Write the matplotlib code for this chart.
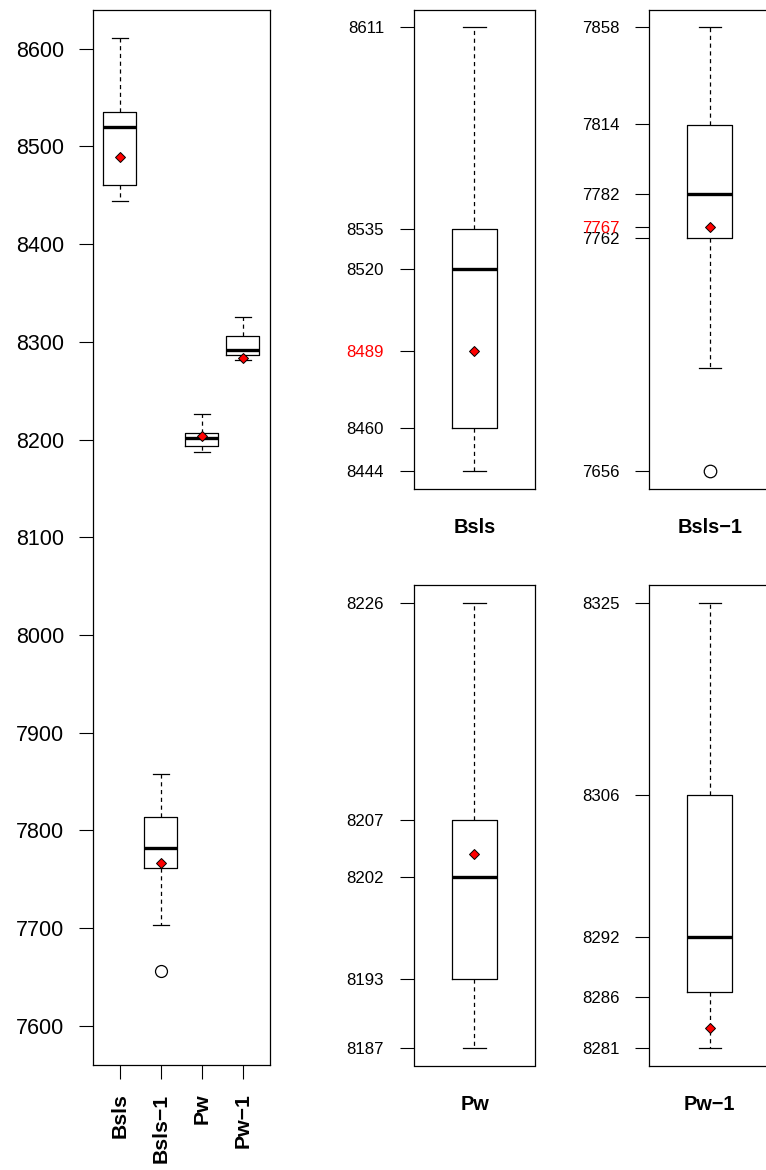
import numpy as np
import matplotlib
matplotlib.use("Agg")
import matplotlib.pyplot as plt

plt.rcParams["font.family"] = ["Liberation Sans", "DejaVu Sans"]
plt.rcParams["lines.scale_dashes"] = False

# Five-number summaries, means and outliers per group
groups = ["Bsls", "Bsls\u22121", "Pw", "Pw\u22121"]
whisk_hi = [8611, 7858, 8226, 8325]
q3 = [8535, 7813.5, 8207, 8306]
medians = [8520, 7782, 8202, 8292]
q1 = [8460, 7762, 8193, 8286.5]
whisk_lo = [8444, 7703, 8187, 8281]
means = [8489, 7767, 8204, 8283]
outliers = [[], [7656], [], []]
mean_on_axis = [True, True, False, False]

overview_ticks = [7600, 7700, 7800, 7900, 8000, 8100, 8200, 8300, 8400, 8500, 8600]
overview_lim = (7600, 8600)

W, H, DPI = 766, 1170, 100
fig = plt.figure(figsize=(W / DPI, H / DPI), dpi=DPI)


def add_axes_px(x0, y0, x1, y1):
    return fig.add_axes([x0 / W, 1 - y1 / H, (x1 - x0) / W, (y1 - y0) / H])


def stats_for(i):
    return dict(med=medians[i], q1=q1[i], q3=q3[i], whislo=whisk_lo[i],
                whishi=whisk_hi[i], fliers=outliers[i], mean=means[i], label=groups[i])


box_kw = dict(
    showmeans=True,
    patch_artist=False,
    boxprops=dict(color="black", linewidth=0.9),
    medianprops=dict(color="black", linewidth=2.4, solid_capstyle="butt"),
    whiskerprops=dict(color="black", linewidth=0.9, linestyle=(0, (3.0, 2.6))),
    capprops=dict(color="black", linewidth=0.9),
    meanprops=dict(marker="D", markerfacecolor="red", markeredgecolor="black",
                   markeredgewidth=0.7, markersize=5.6),
)


def style_frame(ax):
    for sp in ax.spines.values():
        sp.set_linewidth(0.9)
        sp.set_color("black")


# Overview of all four groups
ax0 = add_axes_px(92.7, 9.5, 270, 1065)
ax0.bxp([stats_for(i) for i in range(4)], positions=[1, 2, 3, 4], widths=0.8,
        capwidths=0.4,
        flierprops=dict(marker="o", markerfacecolor="none", markeredgecolor="black",
                        markersize=8.6, markeredgewidth=0.9),
        **box_kw)
lo, hi = overview_lim
pad = (hi - lo) * 0.04
ax0.set_ylim(lo - pad, hi + pad)
ax0.set_xlim(0.34, 4.66)
ax0.set_yticks(overview_ticks)
ax0.set_yticklabels([str(t) for t in overview_ticks], fontsize=15.5)
ax0.set_xticks([1, 2, 3, 4])
ax0.set_xticklabels(groups, rotation=90, fontsize=15.3, fontweight="bold")
ax0.tick_params(axis="both", length=10, width=0.8, pad=10.5, color="black")
style_frame(ax0)

# One panel per group, ticks at the summary values
panel_px = [
    (413.7, 9.55, 535.3, 488.7),
    (649.0, 9.55, 770.6, 488.7),
    (413.7, 585.4, 535.3, 1065.5),
    (649.0, 585.4, 770.6, 1065.5),
]
for i, (x0, y0, x1, y1) in enumerate(panel_px):
    ax = add_axes_px(x0, y0, x1, y1)
    ax.bxp([stats_for(i)], positions=[1], widths=0.4, capwidths=0.2,
           flierprops=dict(marker="o", markerfacecolor="none", markeredgecolor="black",
                           markersize=9.0, markeredgewidth=0.9),
           **box_kw)
    pts = [whisk_lo[i], whisk_hi[i]] + list(outliers[i])
    dmin, dmax = min(pts), max(pts)
    pad = (dmax - dmin) * 0.04
    ax.set_ylim(dmin - pad, dmax + pad)
    ax.set_xlim(0.46, 1.54)
    ticks = [dmin, q1[i], medians[i], q3[i], dmax]
    ticks = [float(np.round(t)) for t in ticks]
    labels = [str(int(t)) for t in ticks]
    if mean_on_axis[i]:
        ticks.append(float(means[i]))
        labels.append(str(int(round(means[i]))))
    ax.set_yticks(ticks)
    ax.set_yticklabels(labels, fontsize=12.1)
    ax.tick_params(axis="y", length=10, width=0.8, pad=11.3, color="black")
    ax.set_xticks([])
    if mean_on_axis[i]:
        tk = ax.yaxis.get_major_ticks()[-1]
        tk.tick1line.set_color("red")
        tk.label1.set_color("red")
    ax.annotate(groups[i], xy=(0.5, 0), xycoords="axes fraction",
                xytext=(0, -39 * 72 / DPI), textcoords="offset points",
                ha="center", va="center", fontsize=14.4, fontweight="bold")
    style_frame(ax)

fig.savefig("out.png", dpi=DPI)
